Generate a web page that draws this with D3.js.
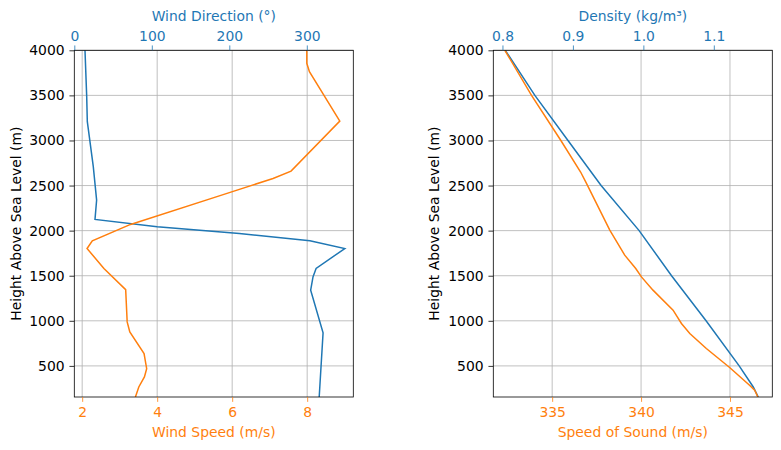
<!DOCTYPE html>
<html>
<head>
<meta charset="utf-8">
<script src="https://cdn.jsdelivr.net/npm/d3@7"></script>
<style>
  body { margin: 0; background: #fff; }
  svg text { font-family: "DejaVu Sans", sans-serif; }
</style>
</head>
<body>
<div id="chart"></div>
<script>
// wind profile (left panel)
const speedHeights = [4000, 3856, 3763, 3215, 2660, 2579, 2402, 2069, 1887, 1802, 1580, 1345, 988, 877, 637, 470, 377, 266, 155]
const windSpeed = [7.99, 7.99, 8.06, 8.87, 7.57, 7.09, 5.78, 3.29, 2.27, 2.13, 2.58, 3.16, 3.20, 3.27, 3.65, 3.72, 3.66, 3.51, 3.42]
const directionHeights = [4000, 3486, 3208, 2709, 2339, 2124, 2042, 1969, 1887, 1802, 1580, 1487, 1340, 866, 155]
const windDirection = [13.8, 16, 16.8, 24.5, 28.8, 26.7, 107, 213, 304, 349, 312, 308, 305, 321, 316]

// atmosphere (right panel)
const soundHeights = [4000, 3500, 3000, 2650, 2524, 2413, 2006, 1728, 1580, 1487, 1340, 1118, 970, 859, 693, 482, 285, 230, 155]
const speedOfSound = [332.34, 333.84, 335.49, 336.6, 336.93, 337.21, 338.24, 339.08, 339.70, 340.02, 340.67, 341.80, 342.27, 342.74, 343.67, 344.98, 346.1, 346.39, 346.57]
const densityHeights = [4000, 3500, 3000, 2500, 2000, 1500, 1000, 500, 266, 155]
const density = [0.804, 0.846, 0.893, 0.940, 0.994, 1.040, 1.089, 1.136, 1.156, 1.163]

const heightTicks = [500, 1000, 1500, 2000, 2500, 3000, 3500, 4000]
const speedTicks = [2, 4, 6, 8]
const directionTicks = [0, 100, 200, 300]
const soundTicks = [335, 340, 345]
const densityTicks = [0.8, 0.9, 1.0, 1.1]

const WIDTH = 781
const HEIGHT = 450
const TOP = 50.3
const BOTTOM = 397
const PANEL_W = 279
const BLUE = "#1f77b4"
const ORANGE = "#ff7f0e"
const FONT = 13.9
const TICK = 4.86

const svg = d3.select("#chart")
              .append("svg")
              .attr("width", WIDTH)
              .attr("height", HEIGHT)

const y = d3.scaleLinear()
            .domain([155, 4000])
            .range([BOTTOM - TOP, 0])

const panels = [
  {
    left: 74.3,
    yLabelX: 16,
    bottom: { label: "Wind Speed (m/s)", domain: [1.79, 9.23], ticks: speedTicks, fmt: d3.format("d"),
              xs: windSpeed, ys: speedHeights },
    top: { label: "Wind Direction (°)", domain: [0, 360], ticks: directionTicks, fmt: d3.format("d"),
           xs: windDirection, ys: directionHeights },
  },
  {
    left: 493.3,
    yLabelX: 433.5,
    bottom: { label: "Speed of Sound (m/s)", domain: [331.69, 347.38], ticks: soundTicks, fmt: d3.format("d"),
              xs: speedOfSound, ys: soundHeights },
    top: { label: "Density (kg/m³)", domain: [0.787, 1.183], ticks: densityTicks, fmt: d3.format(".1f"),
           xs: density, ys: densityHeights },
  },
]

panels.forEach((p, i) => drawPanel(p, i))

function drawPanel(p, i) {
  const g = svg.append("g")
               .attr("transform", `translate(${p.left}, ${TOP})`)
  const h = BOTTOM - TOP

  const xBottom = d3.scaleLinear().domain(p.bottom.domain).range([0, PANEL_W])
  const xTop = d3.scaleLinear().domain(p.top.domain).range([0, PANEL_W])

  g.append("clipPath")
   .attr("id", `clip${i}`)
   .append("rect")
   .attr("width", PANEL_W)
   .attr("height", h)

  // grid
  g.selectAll(".vgrid")
   .data(p.bottom.ticks)
   .enter()
   .append("line")
   .attr("x1", d => xBottom(d))
   .attr("x2", d => xBottom(d))
   .attr("y1", 0)
   .attr("y2", h)
   .attr("stroke", "#b0b0b0")
   .attr("stroke-width", 0.8)

  g.selectAll(".hgrid")
   .data(heightTicks)
   .enter()
   .append("line")
   .attr("x1", 0)
   .attr("x2", PANEL_W)
   .attr("y1", d => y(d))
   .attr("y2", d => y(d))
   .attr("stroke", "#b0b0b0")
   .attr("stroke-width", 0.8)

  // series: bottom axis orange, top axis blue
  const lineBottom = d3.line()
                       .x(d => xBottom(d))
                       .y((d, j) => y(p.bottom.ys[j]))
  const lineTop = d3.line()
                    .x(d => xTop(d))
                    .y((d, j) => y(p.top.ys[j]))

  const plot = g.append("g").attr("clip-path", `url(#clip${i})`)
  plot.append("path")
      .datum(p.top.xs)
      .attr("d", lineTop)
      .attr("fill", "none")
      .attr("stroke", BLUE)
      .attr("stroke-width", 1.5)
  plot.append("path")
      .datum(p.bottom.xs)
      .attr("d", lineBottom)
      .attr("fill", "none")
      .attr("stroke", ORANGE)
      .attr("stroke-width", 1.5)

  // frame
  g.append("rect")
   .attr("width", PANEL_W)
   .attr("height", h)
   .attr("fill", "none")
   .attr("stroke", "black")
   .attr("stroke-width", 0.8)

  // axes
  const yAxis = g.append("g")
                 .call(d3.axisLeft(y).tickValues(heightTicks).tickFormat(d3.format("d"))
                         .tickSize(TICK).tickPadding(TICK))
  const bAxis = g.append("g")
                 .attr("transform", `translate(0, ${h})`)
                 .call(d3.axisBottom(xBottom).tickValues(p.bottom.ticks).tickFormat(p.bottom.fmt)
                         .tickSize(TICK).tickPadding(TICK))
  const tAxis = g.append("g")
                 .call(d3.axisTop(xTop).tickValues(p.top.ticks).tickFormat(p.top.fmt)
                         .tickSize(TICK).tickPadding(TICK))

  ;[yAxis, bAxis, tAxis].forEach(a => {
    a.select(".domain").remove()
    a.selectAll("text").attr("font-size", FONT).attr("font-family", "DejaVu Sans")
    a.selectAll("line").attr("stroke-width", 0.8)
  })
  yAxis.selectAll("text").attr("fill", "black")
  yAxis.selectAll("line").attr("stroke", "black")
  bAxis.selectAll("text").attr("fill", ORANGE)
  bAxis.selectAll("line").attr("stroke", ORANGE)
  tAxis.selectAll("text").attr("fill", BLUE)
  tAxis.selectAll("line").attr("stroke", BLUE)

  // labels
  g.append("text")
   .attr("transform", `translate(${p.yLabelX - p.left}, ${h / 2}) rotate(-90)`)
   .attr("text-anchor", "middle")
   .attr("dominant-baseline", "central")
   .attr("font-size", FONT)
   .text("Height Above Sea Level (m)")

  g.append("text")
   .attr("x", PANEL_W / 2)
   .attr("y", 432 - TOP)
   .attr("text-anchor", "middle")
   .attr("dominant-baseline", "central")
   .attr("font-size", FONT)
   .attr("fill", ORANGE)
   .text(p.bottom.label)

  g.append("text")
   .attr("x", PANEL_W / 2)
   .attr("y", 16 - TOP)
   .attr("text-anchor", "middle")
   .attr("dominant-baseline", "central")
   .attr("font-size", FONT)
   .attr("fill", BLUE)
   .text(p.top.label)
}
</script>
</body>
</html>
